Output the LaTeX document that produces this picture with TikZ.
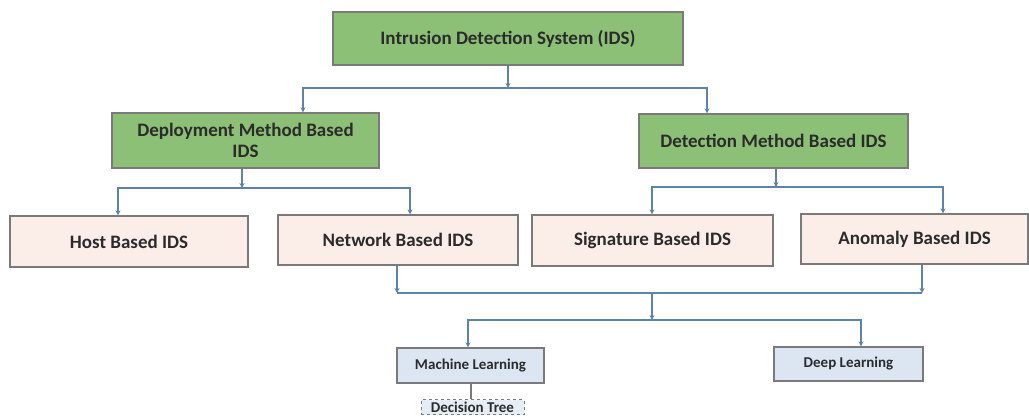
\documentclass[tikz,border=0pt]{standalone}
\usepackage{fontspec}
\setmainfont{Carlito}
\usetikzlibrary{arrows.meta,calc}
\definecolor{conn}{HTML}{5E83A8}
\definecolor{greenfill}{HTML}{8CC076}
\definecolor{peach}{HTML}{FBEEE9}
\definecolor{lblue}{HTML}{DCE6F3}
\definecolor{bordergray}{HTML}{7A7A7A}
\definecolor{txt}{HTML}{2B2B2B}
\tikzset{
  box/.style={draw=bordergray, line width=1.3pt, inner sep=0pt, text=txt, font=\bfseries\fontsize{19}{21}\selectfont, align=center},
  gbox/.style={box, fill=greenfill},
  pbox/.style={box, fill=peach},
  bbox/.style={box, fill=lblue, font=\bfseries\fontsize{15}{17}\selectfont},
  dbox/.style={box, fill=lblue!70, dashed, line width=1pt, font=\bfseries\fontsize{15}{17}\selectfont},
  line/.style={draw=conn, line width=1.6pt},
  arr/.style={line, -{Stealth[length=5pt,width=5pt]}},
}
\begin{document}
\begin{tikzpicture}[x=1pt,y=-1pt]
\useasboundingbox (0,0) rectangle (1029,416);
% nodes
\node[gbox, minimum width=350, minimum height=53] (top) at (508,38.5) {Intrusion Detection System (IDS)};
\node[gbox, minimum width=267, minimum height=55] (dep) at (245.5,140.5) {Deployment Method Based\\IDS};
\node[gbox, minimum width=269, minimum height=54] (det) at (773.5,141) {Detection Method Based IDS};
\node[pbox, minimum width=238, minimum height=51] (host) at (129,241.5) {Host Based IDS};
\node[pbox, minimum width=240, minimum height=50] (net) at (398,240) {Network Based IDS};
\node[pbox, minimum width=241, minimum height=51] (sig) at (652.5,240.5) {Signature Based IDS};
\node[pbox, minimum width=227, minimum height=50] (anom) at (914.5,239) {Anomaly Based IDS};
\node[bbox, minimum width=147, minimum height=35] (ml) at (470.5,365.5) {Machine Learning};
\node[bbox, minimum width=149, minimum height=34] (dl) at (848.5,364) {Deep Learning};
\node[dbox, minimum width=103, minimum height=15] (dt) at (472.5,407) {Decision Tree};
% junction coordinates
\coordinate (j1) at (508,88);
\coordinate (j2) at (242,188);
\coordinate (j3) at (776,187);
\coordinate (j4) at (652,293);
\coordinate (j5) at (652,320);
% connectors
\draw[arr] (top.south) -- (j1);
\draw[arr] (j1) -| ([xshift=57.5pt]dep.north);
\draw[arr] (j1) -| ([xshift=-66.5pt]det.north);
\draw[arr] ([xshift=-3.5pt]dep.south) -- (j2);
\draw[arr] (j2) -| ([xshift=-11pt]host.north);
\draw[arr] (j2) -| ([xshift=12pt]net.north);
\draw[arr] ([xshift=2.5pt]det.south) -- (j3);
\draw[arr] (j3) -| ([xshift=-0.5pt]sig.north);
\draw[arr] (j3) -| ([xshift=28.5pt]anom.north);
\draw[arr] ([xshift=-1pt]net.south) -- ([xshift=-1pt]net.south |- j4);
\draw[arr] ([xshift=7.5pt]anom.south) -- ([xshift=7.5pt]anom.south |- j4);
\draw[line] ([xshift=-1pt]net.south |- j4) -- ([xshift=7.5pt]anom.south |- j4);
\draw[arr] (j4) -- (j5);
\draw[arr] (j5) -| ([xshift=-2.5pt]ml.north);
\draw[arr] (j5) -| ([xshift=12.5pt]dl.north);
\draw[draw=bordergray, line width=1.3pt] ([xshift=0.5pt]ml.south) -- ([xshift=-1.5pt]dt.north);
\end{tikzpicture}
\end{document}
